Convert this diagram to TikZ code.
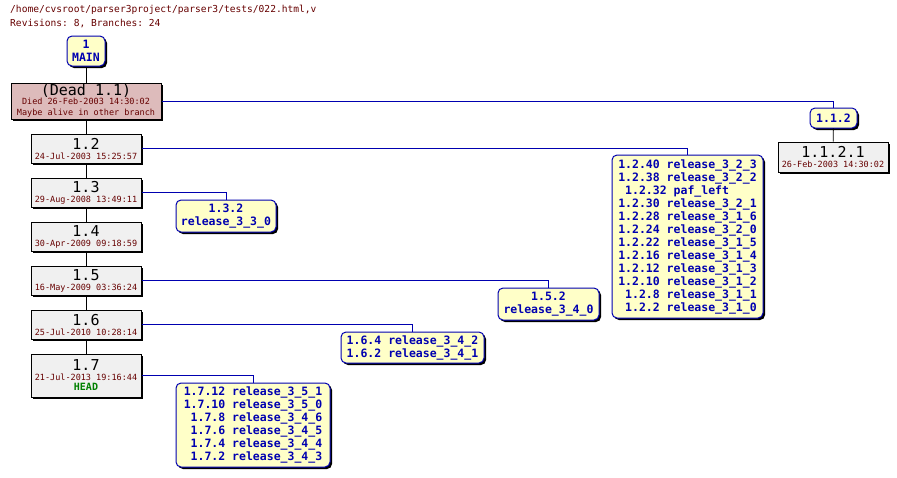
\documentclass[tikz,border=0pt]{standalone}
\usepackage{fontspec}
\setmonofont{DejaVu Sans Mono}
\usetikzlibrary{shadows}
\definecolor{tagfill}{HTML}{FFFFC8}
\definecolor{tagblue}{HTML}{0000B0}
\definecolor{revfill}{HTML}{F0F0F0}
\definecolor{deadfill}{HTML}{DDBBBB}
\definecolor{datered}{HTML}{660000}
\definecolor{headgreen}{HTML}{008000}
\tikzset{
  shade/.style={drop shadow={shadow xshift=2pt, shadow yshift=-2pt, fill=black, opacity=1}},
  tag/.style={shade, draw=tagblue, line width=1pt, fill=tagfill, rounded corners=5pt,
    inner sep=0pt, align=right, text=tagblue, font=\ttfamily\bfseries\fontsize{11.5}{13}\selectfont},
  rev/.style={shade, draw=black, line width=1pt, fill=revfill, inner sep=0pt, align=center,
    minimum width=110pt, font=\ttfamily\fontsize{15}{13}\selectfont},
  trunk/.style={line width=0.8pt},
  branch/.style={draw=tagblue, line width=0.8pt},
}
\newcommand{\smallred}{\fontsize{8.5}{9}\selectfont\color{datered}}
\newcommand{\revdate}[1]{\\[-3pt]\smallred #1}
\begin{document}
\begin{tikzpicture}[x=1pt, y=-1pt]
    \useasboundingbox (0,0) rectangle (897,477);

    % Cabecalho
    \node[anchor=north west, inner sep=0pt, text=datered, align=left,
      font=\ttfamily\fontsize{9.6}{14}\selectfont] (title) at (10,5)
      {/home/cvsroot/parser3project/parser3/tests/022.html,v\\Revisions: 8, Branches: 24};

    % Tronco
    \node[tag, minimum width=38pt, minimum height=30pt, align=center] (main) at (86,51) {1\\MAIN};
    \node[rev, fill=deadfill, minimum width=150pt, minimum height=36pt] (dead) at (86,101)
      {(Dead 1.1)\\[-4pt]\smallred Died 26-Feb-2003 14:30:02\\[-2pt]\smallred Maybe alive in other branch};
    \node[rev, minimum height=29pt] (r12) at (86,148.5) {1.2\revdate{24-Jul-2003 15:25:57}};
    \node[rev, minimum height=29pt] (r13) at (86,192.5) {1.3\revdate{29-Aug-2008 13:49:11}};
    \node[rev, minimum height=29pt] (r14) at (86,236.5) {1.4\revdate{30-Apr-2009 09:18:59}};
    \node[rev, minimum height=29pt] (r15) at (86,280.5) {1.5\revdate{16-May-2009 03:36:24}};
    \node[rev, minimum height=29pt] (r16) at (86,324.5) {1.6\revdate{25-Jul-2010 10:28:14}};
    \node[rev, minimum height=43pt] (r17) at (86,375.5)
      {1.7\revdate{21-Jul-2013 19:16:44}\\[-3pt]\bfseries\fontsize{10}{11}\selectfont\color{headgreen}HEAD};

    % Ramo 1.1.2
    \node[tag, minimum width=47pt, minimum height=20pt] (b112) at (833.5,118) {1.1.2};
    \node[rev, minimum height=30pt] (r1121) at (833,157) {1.1.2.1\revdate{26-Feb-2003 14:30:02}};

    % Etiquetas dos ramos
    \node[tag, minimum width=151pt, minimum height=163pt] (b12) at (687.5,236.5)
      {1.2.40 release\_3\_2\_3\\1.2.38 release\_3\_2\_2\\1.2.32 paf\_left\phantom{xxxx}\\
       1.2.30 release\_3\_2\_1\\1.2.28 release\_3\_1\_6\\1.2.24 release\_3\_2\_0\\
       1.2.22 release\_3\_1\_5\\1.2.16 release\_3\_1\_4\\1.2.12 release\_3\_1\_3\\
       1.2.10 release\_3\_1\_2\\1.2.8 release\_3\_1\_1\\1.2.2 release\_3\_1\_0};
    \node[tag, minimum width=100pt, minimum height=32pt, align=center] (b13) at (226,216) {1.3.2\\release\_3\_3\_0};
    \node[tag, minimum width=101pt, minimum height=32pt, align=center] (b15) at (548.5,304) {1.5.2\\release\_3\_4\_0};
    \node[tag, minimum width=143pt, minimum height=31pt] (b16) at (412.5,347.5) {1.6.4 release\_3\_4\_2\\1.6.2 release\_3\_4\_1};
    \node[tag, minimum width=154pt, minimum height=84pt] (b17) at (253,425)
      {1.7.12 release\_3\_5\_1\\1.7.10 release\_3\_5\_0\\1.7.8 release\_3\_4\_6\\
       1.7.6 release\_3\_4\_5\\1.7.4 release\_3\_4\_4\\1.7.2 release\_3\_4\_3};

    % Ligacoes
    \draw[trunk] (main) -- (dead);
    \draw[trunk] (dead) -- (r12);
    \draw[trunk] (r12) -- (r13);
    \draw[trunk] (r13) -- (r14);
    \draw[trunk] (r14) -- (r15);
    \draw[trunk] (r15) -- (r16);
    \draw[trunk] (r16) -- (r17);
    \draw[trunk] (b112) -- (r1121);
    \draw[branch] (dead.east) -| (b112.north);
    \draw[branch] (r12.east) -| (b12.north);
    \draw[branch] (r13.east) -| (b13.north);
    \draw[branch] (r15.east) -| (b15.north);
    \draw[branch] (r16.east) -| (b16.north);
    \draw[branch] (r17.east) -| (b17.north);
\end{tikzpicture}
\end{document}
